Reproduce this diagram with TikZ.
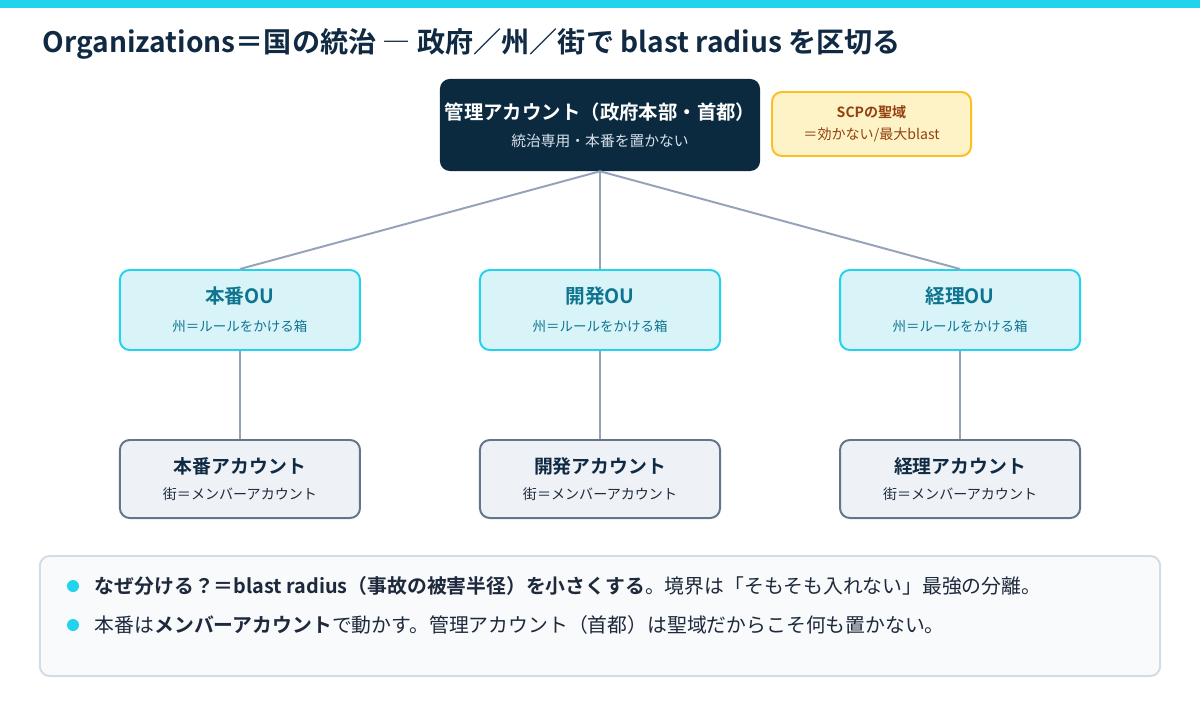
\documentclass[tikz,border=0pt]{standalone}
\usepackage{fontspec}
\setmainfont{Noto Sans CJK JP}[BoldFont={Noto Sans CJK JP Bold}]
\definecolor{barcyan}{HTML}{22D3EE}
\definecolor{ink}{HTML}{102A43}
\definecolor{hqfill}{HTML}{0B2A40}
\definecolor{hqsub}{HTML}{D7E0EA}
\definecolor{linkgray}{HTML}{94A3B8}
\definecolor{oufill}{HTML}{D9F4F8}
\definecolor{outext}{HTML}{0E7490}
\definecolor{accfill}{HTML}{EEF2F7}
\definecolor{accline}{HTML}{64748B}
\definecolor{accsub}{HTML}{1E293B}
\definecolor{scpfill}{HTML}{FEF3C7}
\definecolor{scpline}{HTML}{FBBF24}
\definecolor{scptext}{HTML}{92400E}
\definecolor{notefill}{HTML}{F8FAFC}
\definecolor{noteline}{HTML}{D3DCE6}

\begin{document}
\begin{tikzpicture}[x=0.025cm,y=-0.025cm,
    ou/.style={draw=barcyan,fill=oufill,line width=1.4pt,rounded corners=7pt,
      minimum width=6cm,minimum height=2cm,align=center,text=outext,
      font=\fontsize{9.6}{12}\selectfont},
    acct/.style={draw=accline,fill=accfill,line width=1.4pt,rounded corners=7pt,
      minimum width=6cm,minimum height=1.95cm,align=center,text=accsub,
      font=\fontsize{10}{12}\selectfont},
    link/.style={draw=linkgray,line width=1.4pt},
    bullet/.style={circle,fill=barcyan,minimum size=0.3cm,inner sep=0pt}]
  \useasboundingbox (0,0) rectangle (1200,720);
  \fill[barcyan] (0,0) rectangle (1200,8);

  \node[anchor=west,text=ink,font=\bfseries\fontsize{20}{24}\selectfont] (title) at (38,44)
    {Organizations＝国の統治 ― 政府／州／街で blast radius を区切る};

  \node[fill=hqfill,rounded corners=7pt,minimum width=8cm,minimum height=2.3cm,
        align=center,text=hqsub,font=\fontsize{10.5}{13}\selectfont] (hq) at (600,125)
    {{\color{white}\bfseries\fontsize{13.8}{16}\selectfont 管理アカウント（政府本部・首都）}\\[6pt]
     統治専用・本番を置かない};
  \node[draw=scpline,fill=scpfill,line width=1.4pt,rounded corners=7pt,
        minimum width=4.975cm,minimum height=1.6cm,align=center,text=scptext,
        font=\fontsize{10}{12}\selectfont] (scp) at (871.5,124)
    {{\bfseries SCPの聖域}\\[4pt]＝効かない/最大blast};

  \matrix (grid) [column sep=2.95cm,row sep=2.2cm,inner sep=0pt] at (600,394) {
    \node[ou] (prodou) {{\bfseries\fontsize{14}{17}\selectfont 本番OU}\\[8pt]州＝ルールをかける箱};
    & \node[ou] (devou) {{\bfseries\fontsize{14}{17}\selectfont 開発OU}\\[8pt]州＝ルールをかける箱};
    & \node[ou] (finou) {{\bfseries\fontsize{14}{17}\selectfont 経理OU}\\[8pt]州＝ルールをかける箱}; \\
    \node[acct] (prodacct) {{\color{ink}\bfseries\fontsize{13.4}{16}\selectfont 本番アカウント}\\[7pt]街＝メンバーアカウント};
    & \node[acct] (devacct) {{\color{ink}\bfseries\fontsize{13.4}{16}\selectfont 開発アカウント}\\[7pt]街＝メンバーアカウント};
    & \node[acct] (finacct) {{\color{ink}\bfseries\fontsize{13.4}{16}\selectfont 経理アカウント}\\[7pt]街＝メンバーアカウント}; \\
  };

  \path[link] (hq.south) edge (prodou.north);
  \path[link] (hq.south) edge (devou.north);
  \path[link] (hq.south) edge (finou.north);
  \path[link] (prodou)   edge (prodacct);
  \path[link] (devou)    edge (devacct);
  \path[link] (finou)    edge (finacct);

  \node[draw=noteline,fill=notefill,line width=1.4pt,rounded corners=7pt,
        minimum width=28cm,minimum height=3cm] (notes) at (600,616) {};
  \node[bullet] (whydot) at (73,586) {};
  \node[bullet] (howdot) at (73,625) {};
  \node[anchor=west,text=accsub,font=\fontsize{14.1}{17}\selectfont] (why) at (90,586)
    {\textbf{なぜ分ける？＝blast radius（事故の被害半径）を小さくする}。境界は「そもそも入れない」最強の分離。};
  \node[anchor=west,text=accsub,font=\fontsize{14.1}{17}\selectfont] (how) at (90,625)
    {本番は\textbf{メンバーアカウント}で動かす。管理アカウント（首都）は聖域だからこそ何も置かない。};
\end{tikzpicture}
\end{document}
